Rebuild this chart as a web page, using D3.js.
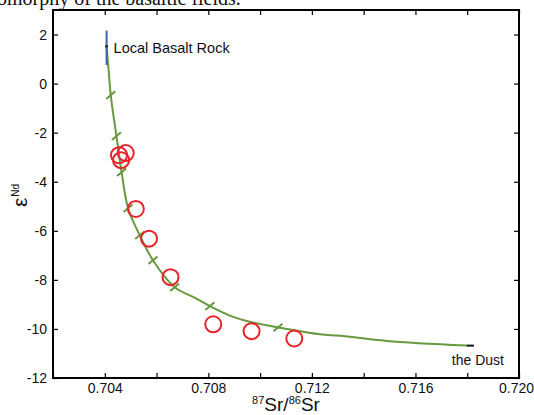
<!DOCTYPE html>
<html>
<head>
<meta charset="utf-8">
<script src="https://cdn.jsdelivr.net/npm/d3@7"></script>
<style>
  body { margin: 0; background: #fff; }
  svg { display: block; }
  text { font-family: "Liberation Sans", Arial, sans-serif; fill: #111; }
</style>
</head>
<body>
<div id="chart"></div>
<script>
var svgWidth = 534;
var svgHeight = 415;

var margin = { top: 10, right: 15, bottom: 37, left: 53 };
var width = 519 - margin.left;
var height = 378 - margin.top;

// tick values
var xTicks = [0.702, 0.704, 0.706, 0.708, 0.710, 0.712, 0.714, 0.716, 0.718, 0.720];
var xLabels = [0.704, 0.708, 0.712, 0.716, 0.720];
var yTicks = [-12, -10, -8, -6, -4, -2, 0, 2];

// samples (red circles)
var sampleX = [0.70481, 0.70463, 0.70455, 0.7052, 0.70571, 0.70654, 0.70819, 0.70967, 0.71132];
var sampleY = [-2.83, -3.12, -2.92, -5.11, -6.32, -7.89, -9.81, -10.09, -10.39];

// mixing curve
var curveX = [0.70407, 0.70415, 0.70423, 0.70445, 0.70465, 0.7049, 0.70535, 0.70586, 0.7067, 0.70754, 0.70806, 0.70896, 0.70972, 0.71069, 0.71231, 0.71309, 0.71489, 0.71798];
var curveY = [1.52, 0.53, -0.47, -2.14, -3.61, -5.08, -6.18, -7.2, -8.3, -8.76, -9.07, -9.51, -9.74, -9.94, -10.22, -10.28, -10.49, -10.68];

// mixing proportion marks on the curve
var markX = [0.70423, 0.70445, 0.70465, 0.7049, 0.70535, 0.70586, 0.7067, 0.70806, 0.71069];
var markY = [-0.47, -2.14, -3.61, -5.08, -6.18, -7.2, -8.3, -9.07, -9.94];

// end members
var basaltX = 0.70407, basaltY = 1.52, basaltErr = [0.76, 2.16];
var dustY = -10.68, dustErr = [0.71798, 0.71826];

var svg = d3.select('#chart')
  .append('svg')
  .attr('width', svgWidth)
  .attr('height', svgHeight);

// cut-off caption line from the page above
svg.append('text')
  .attr('x', -3)
  .attr('y', 5)
  .style('font-family', '"Liberation Serif", "Times New Roman", serif')
  .style('font-size', '20px')
  .text('omorphy of the basaltic fields.');

var chartGroup = svg.append('g')
  .attr('transform', `translate(${margin.left}, ${margin.top})`);

var xScale = d3.scaleLinear().domain([0.702, 0.720]).range([0, width]);
var yScale = d3.scaleLinear().domain([-12, 3]).range([height, 0]);

// axes, matlab style: inward ticks on all four sides
var tickLen = 5;
var xBottom = chartGroup.append('g')
  .attr('transform', `translate(0, ${height})`)
  .call(d3.axisBottom(xScale).tickValues(xTicks).tickSizeInner(-tickLen).tickSizeOuter(0)
    .tickFormat(d => xLabels.some(v => Math.abs(v - d) < 1e-9) ? d3.format('.3f')(d) : ''));
chartGroup.append('g')
  .call(d3.axisTop(xScale).tickValues(xTicks).tickSizeInner(-tickLen).tickSizeOuter(0).tickFormat(''));
chartGroup.append('g')
  .call(d3.axisLeft(yScale).tickValues(yTicks).tickSizeInner(-tickLen).tickSizeOuter(0).tickPadding(6)
    .tickFormat(d => d));
chartGroup.append('g')
  .attr('transform', `translate(${width}, 0)`)
  .call(d3.axisRight(yScale).tickValues(yTicks).tickSizeInner(-tickLen).tickSizeOuter(0).tickFormat(''));

chartGroup.selectAll('.domain').remove();
chartGroup.selectAll('.tick line').attr('stroke', '#000').attr('stroke-width', 1.2);
chartGroup.selectAll('.tick text')
  .style('font-family', '"Liberation Sans", Arial, sans-serif')
  .style('font-size', '14px')
  .attr('fill', '#111');
xBottom.selectAll('.tick text')
  .attr('dy', null)
  .attr('y', 15)
  .attr('dx', d => d > 0.7199 ? -3 : 0);

// box
chartGroup.append('rect')
  .attr('width', width)
  .attr('height', height)
  .attr('fill', 'none')
  .attr('stroke', '#000')
  .attr('stroke-width', 2);

var green = '#67993f';

// mixing curve
var line = d3.line()
  .x(d => xScale(d[0]))
  .y(d => yScale(d[1]))
  .curve(d3.curveCatmullRom.alpha(0.5));

chartGroup.append('path')
  .attr('d', line(curveX.map((x, i) => [x, curveY[i]])))
  .attr('fill', 'none')
  .attr('stroke', green)
  .attr('stroke-width', 2);

// mixing marks, drawn as short "/" strokes
var mx = 4.5, my = 3.8;
chartGroup.selectAll('line.mark')
  .data(markX.map((x, i) => [x, markY[i]]))
  .enter()
  .append('line')
  .attr('class', 'mark')
  .attr('x1', d => xScale(d[0]) - mx).attr('y1', d => yScale(d[1]) + my)
  .attr('x2', d => xScale(d[0]) + mx).attr('y2', d => yScale(d[1]) - my)
  .attr('stroke', green)
  .attr('stroke-width', 2);

// local basalt error bar
chartGroup.append('line')
  .attr('x1', xScale(basaltX)).attr('x2', xScale(basaltX))
  .attr('y1', yScale(basaltErr[0])).attr('y2', yScale(basaltErr[1]))
  .attr('stroke', '#3a62b0')
  .attr('stroke-width', 2);
chartGroup.append('line')
  .attr('x1', xScale(basaltX) - 1.5).attr('x2', xScale(basaltX) + 1.5)
  .attr('y1', yScale(basaltY)).attr('y2', yScale(basaltY))
  .attr('stroke', '#222')
  .attr('stroke-width', 2);

// dust error bar
chartGroup.append('line')
  .attr('x1', xScale(dustErr[0])).attr('x2', xScale(dustErr[1]))
  .attr('y1', yScale(dustY)).attr('y2', yScale(dustY))
  .attr('stroke', '#111')
  .attr('stroke-width', 2);

// samples
chartGroup.selectAll('circle.sample')
  .data(sampleX.map((x, i) => [x, sampleY[i]]))
  .enter()
  .append('circle')
  .attr('class', 'sample')
  .attr('cx', d => xScale(d[0]))
  .attr('cy', d => yScale(d[1]))
  .attr('r', 8)
  .attr('fill', 'none')
  .attr('stroke', '#e8242b')
  .attr('stroke-width', 2);

// end member labels
chartGroup.append('text')
  .attr('x', xScale(basaltX) + 7)
  .attr('y', yScale(basaltY) + 6.5)
  .style('font-size', '14.5px')
  .text('Local Basalt Rock');

chartGroup.append('text')
  .attr('x', 504 - margin.left)
  .attr('y', 365 - margin.top)
  .attr('text-anchor', 'end')
  .style('font-size', '14px')
  .text('the Dust');

// axis labels
var xLab = svg.append('text')
  .attr('x', (margin.left + 519) / 2)
  .attr('y', 411)
  .attr('text-anchor', 'middle')
  .style('font-size', '19px');
xLab.append('tspan').attr('font-size', '11px').attr('dy', -7).text('87');
xLab.append('tspan').attr('dy', 7).text('Sr/');
xLab.append('tspan').attr('font-size', '11px').attr('dy', -7).text('86');
xLab.append('tspan').attr('dy', 7).text('Sr');

var yLab = svg.append('text')
  .attr('transform', 'translate(27, 207) rotate(-90)')
  .style('font-size', '21px');
yLab.append('tspan').text('ε');
yLab.append('tspan').attr('font-size', '10px').attr('dx', 1).attr('dy', -8).text('Nd');
</script>
</body>
</html>
